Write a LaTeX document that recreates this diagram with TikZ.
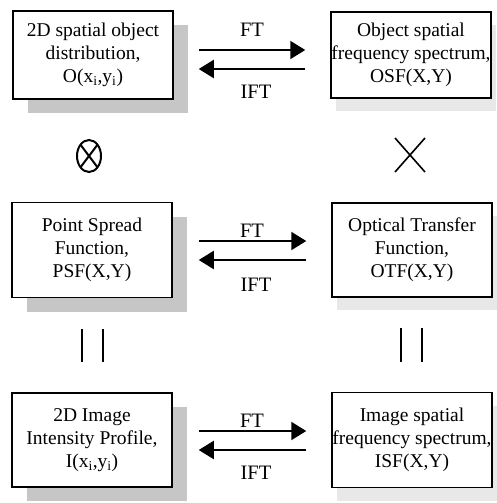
\documentclass[tikz,border=0pt]{standalone}
\usepackage{fontspec}
\setmainfont{Liberation Serif}
\usetikzlibrary{arrows.meta,shadows}
\tikzset{
  box/.style={draw, line width=1.5pt, fill=white, minimum width=160pt,
    minimum height=88pt, align=center, inner sep=0pt,
    font=\fontsize{19.5}{23}\selectfont},
  spacebox/.style={box, drop shadow={shadow xshift=15pt, shadow yshift=-14pt,
    fill=gray!45, opacity=1}},
  freqbox/.style={box, drop shadow={shadow xshift=5pt, shadow yshift=-13pt,
    fill=gray!18, opacity=1}},
  ftarrow/.style={line width=2pt, -{Triangle[length=15pt,width=18pt]}},
  ftlabel/.style={font=\fontsize{20.5}{22}\selectfont, inner sep=0pt},
  bar/.style={line width=2.5pt}
}
\begin{document}
\begin{tikzpicture}[x=1pt,y=-1pt]
      \useasboundingbox (0,0) rectangle (496,503);
      % boxes
      \node[spacebox] (osd) at (93,55) {2D spatial object\\distribution,\\O(x\textsubscript{i},y\textsubscript{i})};
      \node[freqbox, minimum height=86pt] (osf) at (411,55) {Object spatial\\frequency spectrum,\\OSF(X,Y)};
      \node[spacebox, minimum height=95pt] (psf) at (92,250) {Point Spread\\Function,\\PSF(X,Y)};
      \node[freqbox, minimum height=94pt] (otf) at (412,250) {Optical Transfer\\Function,\\OTF(X,Y)};
      \node[spacebox, minimum height=94pt] (iip) at (92,440) {2D Image\\Intensity Profile,\\I(x\textsubscript{i},y\textsubscript{i})};
      \node[freqbox, minimum height=95pt] (isf) at (412,440) {Image spatial\\frequency spectrum,\\ISF(X,Y)};
      % transforms
      \draw[ftarrow] ([xshift=25pt,yshift=5pt]osd.east) to ([xshift=-25pt,yshift=5pt]osf.west);
      \draw[ftarrow] ([xshift=-25pt,yshift=-14pt]osf.west) to ([xshift=25pt,yshift=-14pt]osd.east);
      \draw[ftarrow] ([xshift=26pt,yshift=9pt]psf.east) to ([xshift=-25pt,yshift=9pt]otf.west);
      \draw[ftarrow] ([xshift=-25pt,yshift=-10pt]otf.west) to ([xshift=26pt,yshift=-10pt]psf.east);
      \draw[ftarrow] ([xshift=26pt,yshift=9pt]iip.east) to ([xshift=-25pt,yshift=9pt]isf.west);
      \draw[ftarrow] ([xshift=-25pt,yshift=-10pt]isf.west) to ([xshift=26pt,yshift=-10pt]iip.east);
      \node[ftlabel] (ft1) at (252,30) {FT};
      \node[ftlabel] (ift1) at (256,92) {IFT};
      \node[ftlabel] (ft2) at (252,231) {FT};
      \node[ftlabel] (ift2) at (256,285) {IFT};
      \node[ftlabel] (ft3) at (252,421) {FT};
      \node[ftlabel] (ift3) at (256,473) {IFT};
      % convolution and product
      \draw[line width=2pt] (89,156) ellipse [x radius=12pt, y radius=16pt];
      \draw[line width=2pt] (80.5,144.7) -- (97.5,167.3);
      \draw[line width=2pt] (80.5,167.3) -- (97.5,144.7);
      \draw[line width=1.6pt] (395,138) -- (425,172);
      \draw[line width=1.6pt] (395,172) -- (425,138);
      % equals
      \draw[bar] (82,329) -- (82,362);
      \draw[bar] (103,329) -- (103,362);
      \draw[bar] (401,328) -- (401,362);
      \draw[bar] (422,328) -- (422,362);
    \end{tikzpicture}
\end{document}
